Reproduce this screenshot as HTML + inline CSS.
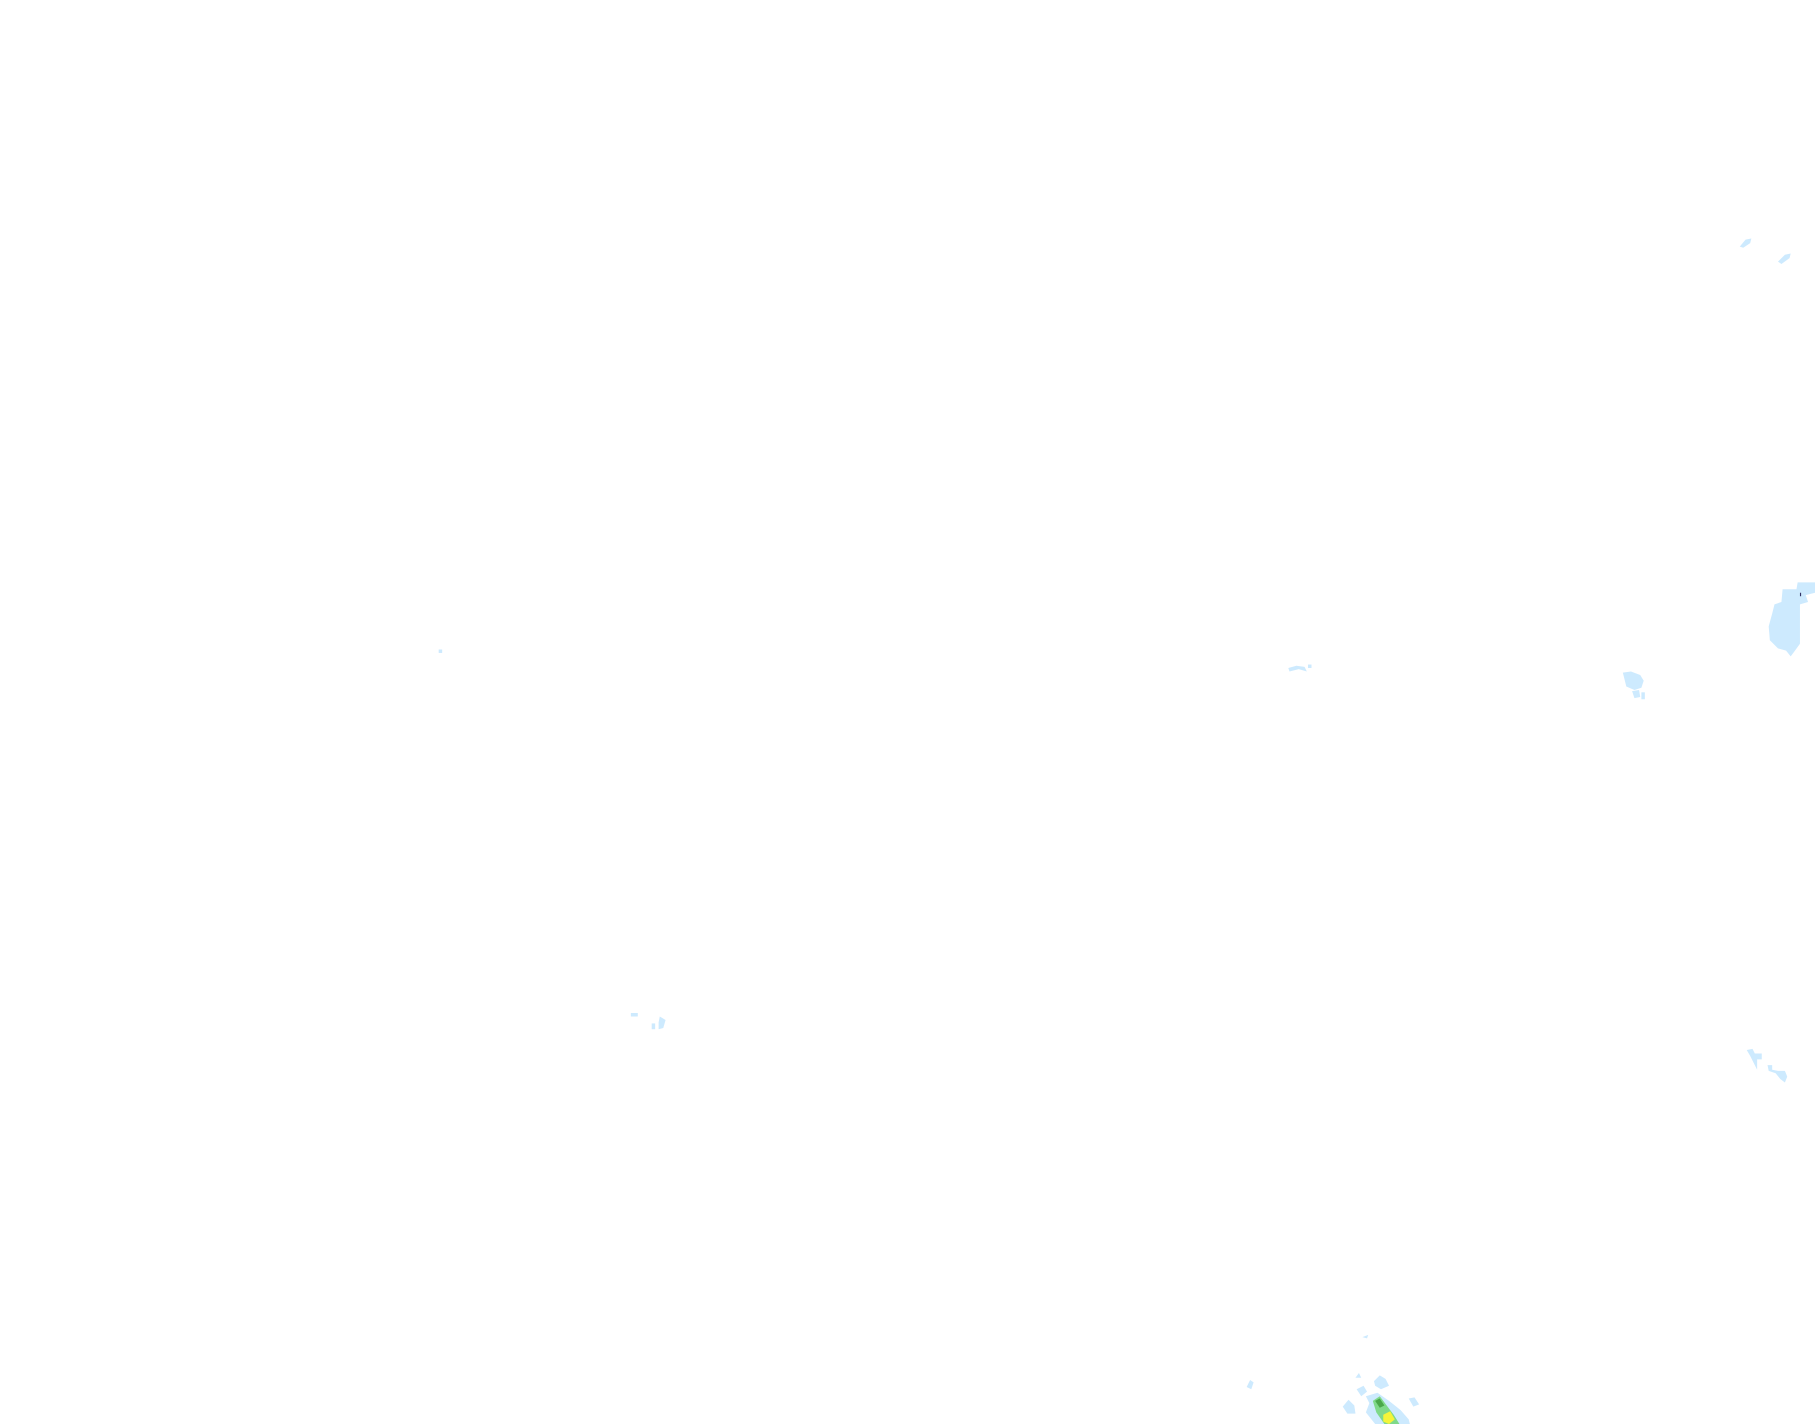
<!DOCTYPE html>
<html><head><meta charset="utf-8"><style>html,body{margin:0;padding:0;background:#fff;width:1815px;height:1424px;overflow:hidden}svg{display:block}</style></head>
<body>
<svg width="1815" height="1424" viewBox="0 0 1568 1230" preserveAspectRatio="none" xmlns="http://www.w3.org/2000/svg">
<rect width="1568" height="1230" fill="#fff"/>
<g fill="#cdeafe">
<path d="M1503 213 L1508 207 L1513 206 L1512 210 L1506 214 Z"/>
<path d="M1536 226 L1542 220 L1547 219 L1546 223 L1539 228 Z"/>
<path d="M1540 509 L1552 509 L1553 503 L1568 503 L1568 512 L1560 514 L1562 520 L1555 522 L1555 556 L1550 563 L1547 567 L1543 562 L1536 560 L1529 553 L1528 541 L1531 530 L1533 522 L1539 520 Z"/>
<path d="M1402 581 L1409 580 L1417 583 L1420 588 L1418 594 L1412 596 L1405 593 Z"/>
<path d="M1410 597 L1416 596 L1417 602 L1412 603 Z"/>
<rect x="1418" y="598" width="3" height="6"/>
<path d="M1113 577 L1120 575 L1127 576 L1129 580 L1122 578 L1114 580 Z"/>
<rect x="1130" y="574" width="3" height="3"/>
<rect x="379" y="561" width="3" height="3"/>
<rect x="545" y="875" width="6" height="3"/>
<path d="M563 884 L566 884 L566 889 L563 889 Z"/>
<path d="M570 878 L575 881 L573 888 L569 889 L569 883 Z"/>
<path d="M1509 907 L1514 906 L1516 910 L1522 910 L1522 915 L1518 915 L1518 924 L1516 920 L1512 912 Z"/>
<path d="M1527 920 L1531 920 L1531 924 L1536 925 L1542 925 L1544 930 L1542 935 L1538 932 L1534 927 L1528 925 Z"/>
<path d="M1177 1155 L1182 1153 L1181 1156 Z"/>
<path d="M1077 1198 L1080 1192 L1083 1194 L1081 1200 Z"/>
<path d="M1171 1190 L1174 1186 L1176 1190 Z"/>
<path d="M1187 1193 L1192 1188 L1197 1191 L1200 1197 L1193 1200 L1188 1197 Z"/>
<path d="M1172 1200 L1178 1197 L1181 1202 L1176 1206 Z"/>
<path d="M1160 1215 L1165 1209 L1170 1214 L1171 1221 L1164 1221 Z"/>
<path d="M1217 1208 L1222 1207 L1226 1213 L1221 1215 Z"/>
<path d="M1180 1206 L1190 1203 L1200 1210 L1210 1218 L1217 1226 L1218 1230 L1188 1230 L1180 1220 L1183 1212 Z"/>
</g>
<g fill="#7fd98a"><path d="M1186 1210 L1192 1206 L1198 1214 L1204 1222 L1209 1230 L1196 1230 L1189 1220 Z"/></g>
<g fill="#4aa84a"><path d="M1188 1210 L1192 1208 L1196 1214 L1192 1216 Z"/></g>
<g fill="#f4f43a"><path d="M1195 1222 L1201 1219 L1205 1226 L1200 1230 L1195 1228 Z"/></g>
<rect x="1555" y="512" width="1" height="3" fill="#336"/>
</svg>
</body></html>
